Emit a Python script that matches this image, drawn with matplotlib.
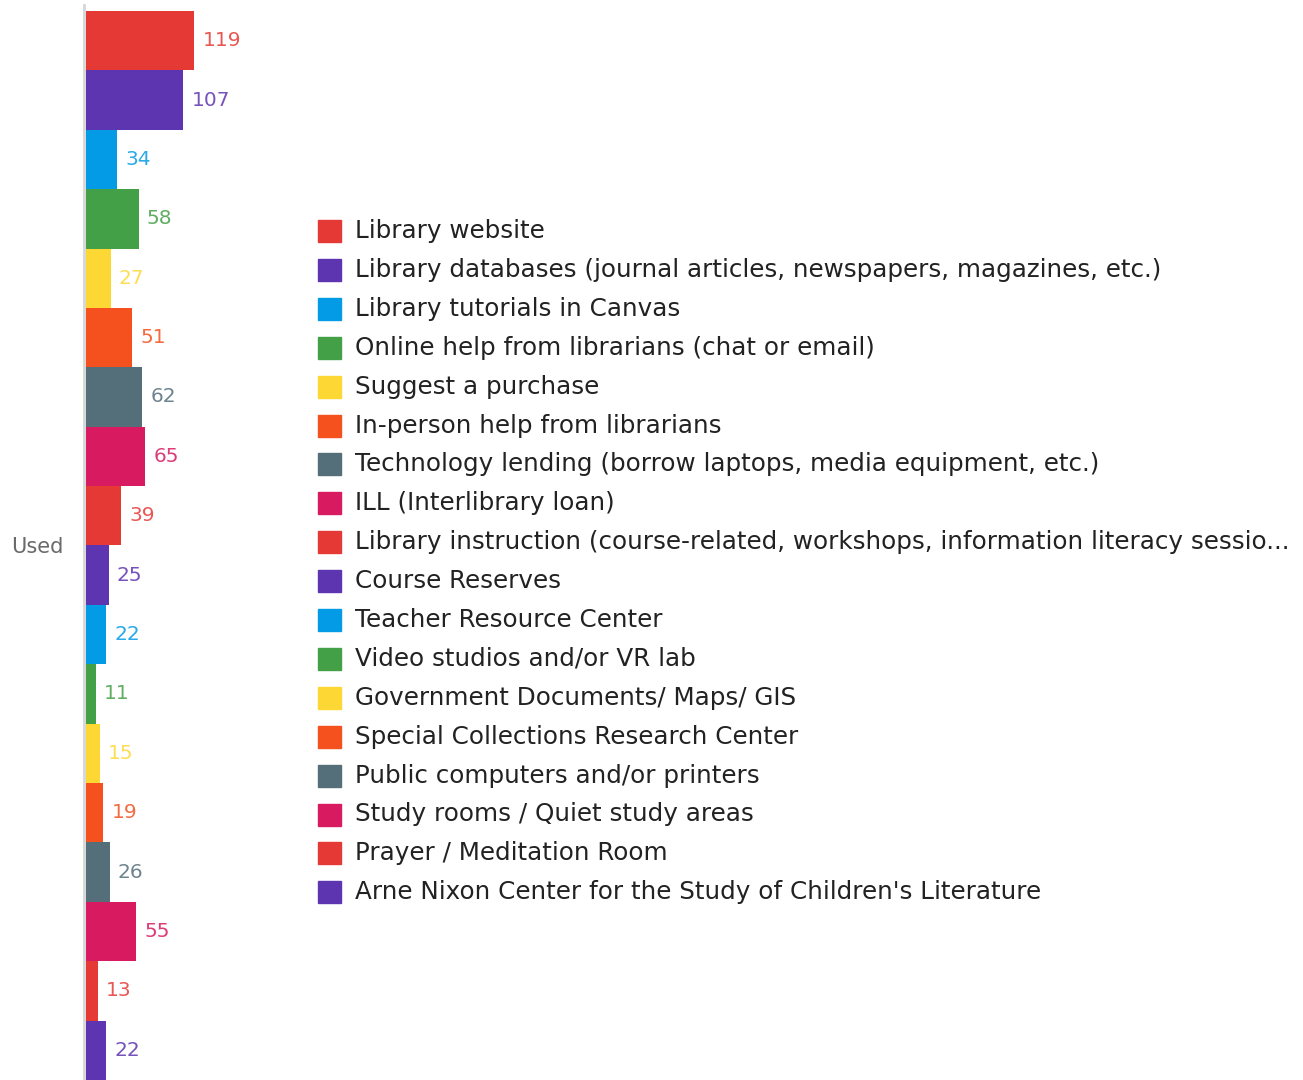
import matplotlib.pyplot as plt
from matplotlib.patches import Rectangle

plt.rcParams['font.family'] = ['DejaVu Sans']

# data
labels = [
    'Library website',
    'Library databases (journal articles, newspapers, magazines, etc.)',
    'Library tutorials in Canvas',
    'Online help from librarians (chat or email)',
    'Suggest a purchase',
    'In-person help from librarians',
    'Technology lending (borrow laptops, media equipment, etc.)',
    'ILL (Interlibrary loan)',
    'Library instruction (course-related, workshops, information literacy sessio...',
    'Course Reserves',
    'Teacher Resource Center',
    'Video studios and/or VR lab',
    'Government Documents/ Maps/ GIS',
    'Special Collections Research Center',
    'Public computers and/or printers',
    'Study rooms / Quiet study areas',
    'Prayer / Meditation Room',
    "Arne Nixon Center for the Study of Children's Literature",
]
values = [119, 107, 34, 58, 27, 51, 62, 65, 39, 25, 22, 11, 15, 19, 26, 55, 13, 22]
palette = ['#e53935', '#5e35b1', '#039be5', '#43a047',
           '#fdd835', '#f4511e', '#546e7a', '#d81b60']
colors = [palette[i % len(palette)] for i in range(len(values))]

W, H = 1303, 1080
fig = plt.figure(figsize=(W / 100, H / 100), dpi=100)

# axes: left edge at the axis line, bars fill top to bottom
ax = fig.add_axes([86 / W, 0, 214 / W, 1075 / H])
pos = list(range(len(values)))
ax.barh(pos, values, height=1.0, color=colors, left=0)
ax.set_xlim(0, 214 / 0.91)
ax.set_ylim(17.5, -0.6)

for p, v, c in zip(pos, values, colors):
    ax.text(v + 9, p, str(v), color=c, fontsize=14.5, va='center', ha='left', alpha=0.85)

for s in ['top', 'right', 'bottom']:
    ax.spines[s].set_visible(False)
ax.spines['left'].set_color('#d6d6d6')
ax.spines['left'].set_linewidth(2)
ax.spines['left'].set_position(('outward', 1.5))
ax.set_xticks([])
ax.set_yticks([8.5])
ax.set_yticklabels(['Used'], color='#6a6a6a', fontsize=15)
ax.tick_params(axis='y', length=0, pad=15)

# legend
y0, step = 231, 38.9
for i, (lab, c) in enumerate(zip(labels, colors)):
    y = y0 + i * step
    fig.patches.append(Rectangle((318 / W, 1 - (y + 11) / H), 23 / W, 22 / H,
                                 transform=fig.transFigure, color=c))
    fig.text(355 / W, 1 - y / H, lab, fontsize=17.7, color='#222222',
             va='center', ha='left')

fig.savefig('out.png', dpi=100)
